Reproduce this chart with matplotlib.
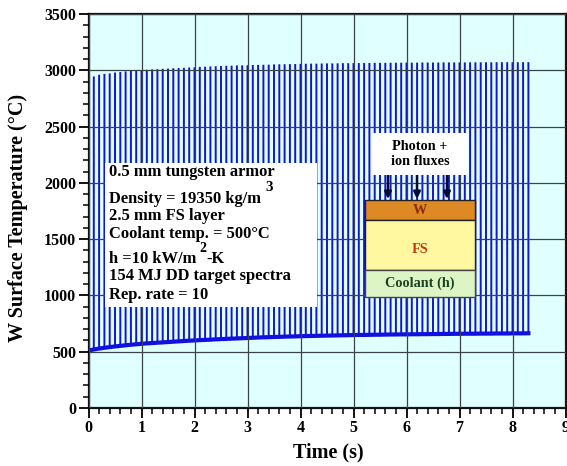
import matplotlib
matplotlib.use("Agg")
import matplotlib.pyplot as plt
from matplotlib.patches import Rectangle

plt.rcParams["font.family"] = ["Liberation Serif", "DejaVu Serif"]
plt.rcParams["font.weight"] = "bold"

W, H = 567, 466

pulse_time = [
    0.0, 0.1, 0.2, 0.3, 0.4, 0.5, 0.6, 0.7, 0.8, 0.9,
    1.0, 1.1, 1.2, 1.3, 1.4, 1.5, 1.6, 1.7, 1.8, 1.9,
    2.0, 2.1, 2.2, 2.3, 2.4, 2.5, 2.6, 2.7, 2.8, 2.9,
    3.0, 3.1, 3.2, 3.3, 3.4, 3.5, 3.6, 3.7, 3.8, 3.9,
    4.0, 4.1, 4.2, 4.3, 4.4, 4.5, 4.6, 4.7, 4.8, 4.9,
    5.0, 5.1, 5.2, 5.3, 5.4, 5.5, 5.6, 5.7, 5.8, 5.9,
    6.0, 6.1, 6.2, 6.3, 6.4, 6.5, 6.6, 6.7, 6.8, 6.9,
    7.0, 7.1, 7.2, 7.3, 7.4, 7.5, 7.6, 7.7, 7.8, 7.9,
    8.0, 8.1, 8.2, 8.3,
]
peak_temp = [
    2935, 2945, 2960, 2968, 2972, 2980, 2985, 2990, 2995, 2998,
    3002, 3005, 3008, 3010, 3013, 3015, 3018, 3020, 3022, 3025,
    3027, 3030, 3032, 3034, 3036, 3038, 3040, 3041, 3043, 3044,
    3045, 3047, 3048, 3049, 3050, 3052, 3053, 3054, 3055, 3056,
    3057, 3058, 3059, 3059, 3060, 3061, 3061, 3062, 3063, 3063,
    3064, 3064, 3065, 3065, 3066, 3066, 3066, 3067, 3067, 3067,
    3068, 3068, 3068, 3069, 3069, 3069, 3069, 3070, 3070, 3070,
    3070, 3070, 3071, 3071, 3071, 3071, 3071, 3072, 3072, 3072,
    3072, 3072, 3072, 3072,
]
base_temp = [
    510, 520, 528, 535, 541, 547, 552, 557, 562, 566,
    570, 574, 577, 580, 583, 586, 589, 592, 595, 598,
    600, 603, 605, 607, 610, 612, 614, 616, 618, 620,
    622, 624, 626, 628, 629, 631, 632, 634, 635, 636,
    638, 639, 640, 641, 642, 643, 644, 645, 646, 647,
    648, 649, 649, 650, 651, 651, 652, 653, 653, 654,
    654, 655, 655, 656, 656, 657, 657, 658, 658, 659,
    659, 660, 660, 660, 661, 661, 661, 662, 662, 662,
    663, 663, 663, 664,
]
box_lines = [
    "0.5 mm tungsten armor",
    "Density = 19350 kg/m",
    "2.5 mm FS layer",
    "Coolant temp. = 500°C",
    "h =10 kW/m",
    "154 MJ DD target spectra",
    "Rep. rate = 10",
]
box_line_y = [172, 199, 216, 234, 259, 276, 295]
arrow_x = [388, 417, 447]


def fx(px):
    return px / W


def fy(py):
    return 1 - py / H


fig = plt.figure(figsize=(W / 100, H / 100), dpi=100)
ax = fig.add_axes([fx(88.5), fy(408), (565.5 - 88.5) / W, (408 - 14) / H])
ax.set_facecolor("#E0FFFF")

pulses = ax.vlines(pulse_time, base_temp, peak_temp, color="#1414CC", linewidth=1.4, zorder=2)
pulses.set_snap(False)
ax.plot(pulse_time, base_temp, color="#1010E0", linewidth=3.0, zorder=2)

ax.set_xlim(0, 9)
ax.set_ylim(0, 3500)
ax.set_xticks(range(0, 10))
ax.set_xticks([i * 0.2 for i in range(46)], minor=True)
ax.set_yticks(range(0, 3501, 500))
ax.set_yticks(range(0, 3501, 100), minor=True)
ax.grid(True, which="major", color="#3A4448", linewidth=0.9, zorder=3)
ax.set_axisbelow(False)
ax.tick_params(which="major", length=7, width=1.3, labelsize=11.5, pad=2)
ax.tick_params(which="minor", length=4, width=1.1)
for side in ax.spines.values():
    side.set_linewidth(1.6)
    side.set_color("#111111")
for lab in ax.get_xticklabels() + ax.get_yticklabels():
    lab.set_fontweight("bold")

fig.text(fx(328), fy(452), "Time (s)", fontsize=14.5, ha="center", va="center")
fig.text(fx(18), fy(218), "W Surface Temperature (°C)", fontsize=14.5, rotation=90,
         ha="center", va="center")


def add_box(x0, y0, x1, y1, face, edge="none", lw=0, z=5):
    fig.add_artist(Rectangle((fx(x0), fy(y1)), (x1 - x0) / W, (y1 - y0) / H,
                             transform=fig.transFigure, facecolor=face,
                             edgecolor=edge, linewidth=lw, zorder=z))


# parameter box
add_box(105, 163, 317, 307, "white")
for line, y in zip(box_lines, box_line_y):
    fig.text(fx(109), fy(y), line, fontsize=11.9, ha="left", va="center", zorder=6)
fig.text(fx(265), fy(188), "3", fontsize=11, ha="left", va="center", zorder=6)
fig.text(fx(199), fy(249), "2", fontsize=10, ha="left", va="center", zorder=6)
fig.text(fx(206), fy(259), "-K", fontsize=11.9, ha="left", va="center", zorder=6)

# layer sketch
add_box(372, 133, 468, 175, "white")
fig.text(fx(420), fy(146), "Photon +", fontsize=10.3, ha="center", va="center", zorder=6)
fig.text(fx(420), fy(162), "ion fluxes", fontsize=10.3, ha="center", va="center", zorder=6)
add_box(365, 200, 475, 220, "#DE8A24", "#222222", 1.0)
add_box(365, 220, 475, 270, "#FFF8A0", "#222222", 1.0)
add_box(365, 270, 475, 297, "#DDF5C4", "#444444", 1.0)
fig.text(fx(420), fy(211), "W", fontsize=10.3, color="#8A2A10", ha="center", va="center", zorder=6)
fig.text(fx(420), fy(250), "FS", fontsize=10.3, color="#C03A18", ha="center", va="center", zorder=6)
fig.text(fx(420), fy(283), "Coolant (h)", fontsize=10.3, color="#1E4020", ha="center", va="center", zorder=6)
for x in arrow_x:
    ax.annotate("", xy=(fx(x), fy(199)), xytext=(fx(x), fy(175)),
                xycoords="figure fraction", textcoords="figure fraction",
                arrowprops=dict(arrowstyle="-|>", color="#0A0A30", lw=1.8, mutation_scale=10,
                                shrinkA=0, shrinkB=0),
                zorder=6)

fig.savefig("out.png", dpi=100)
